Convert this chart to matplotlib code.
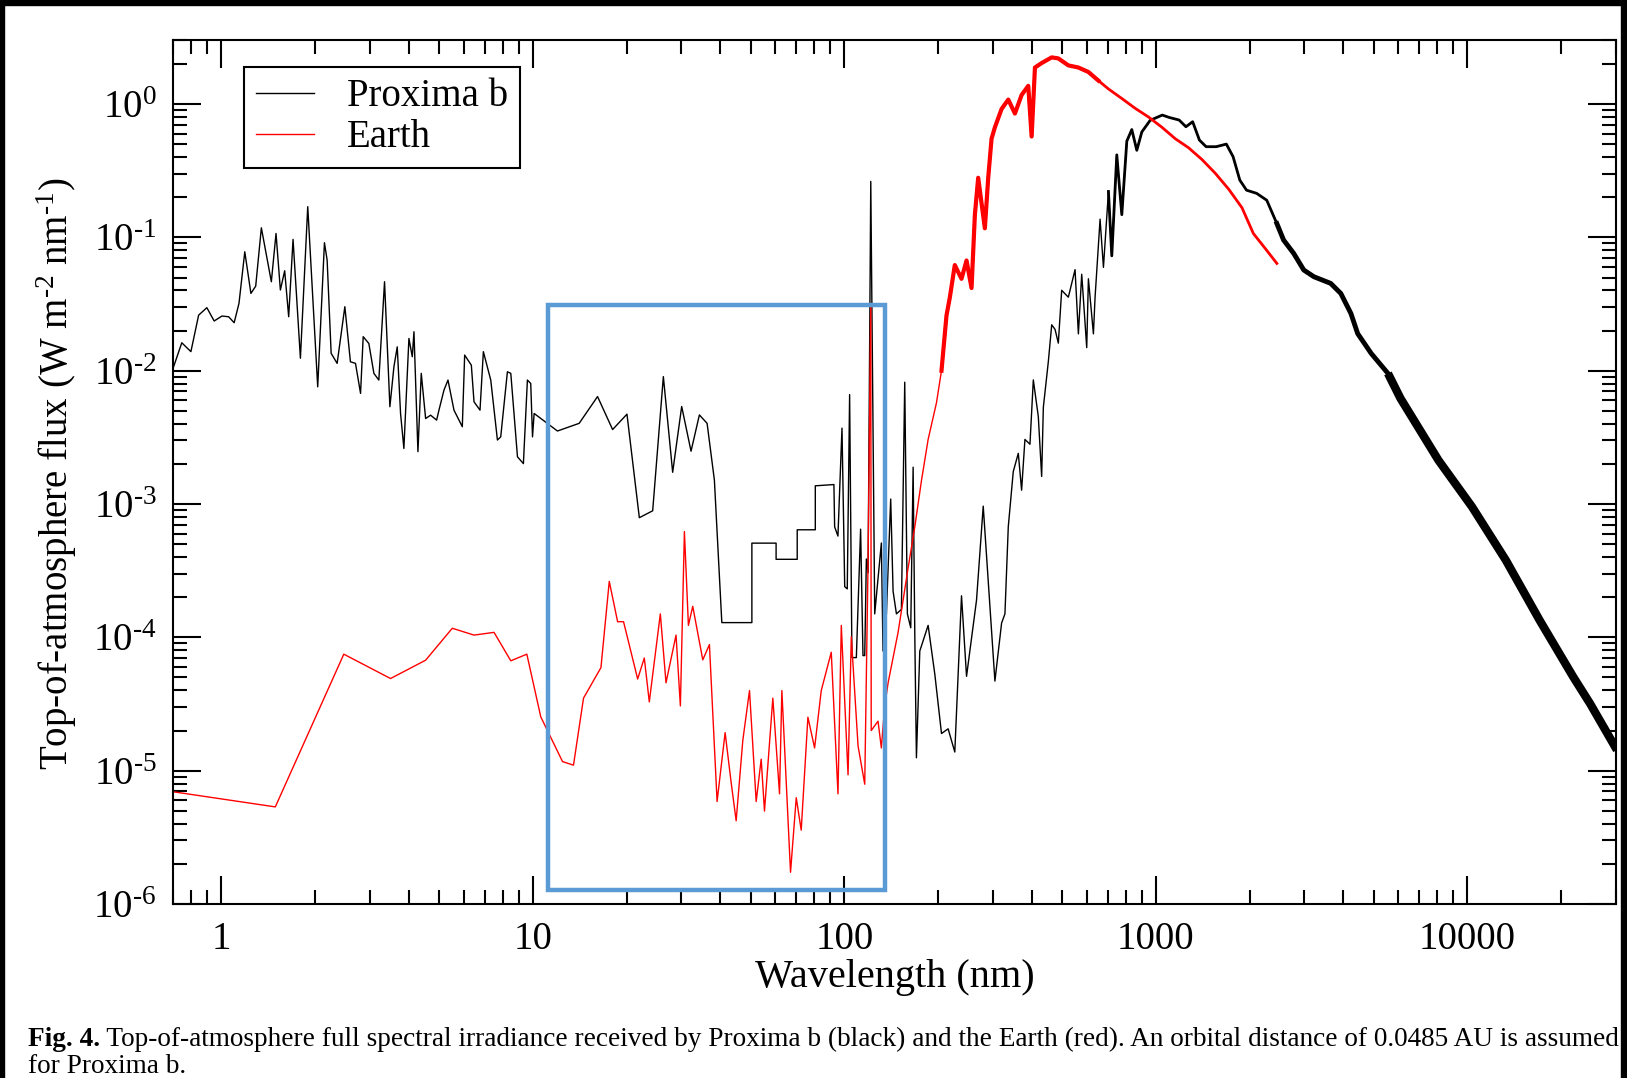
#!/usr/bin/env python
# -*- coding: utf-8 -*-
# Top-of-atmosphere spectra: Proxima b vs Earth (log-log)

import numpy as np
import matplotlib
matplotlib.use('Agg')
from matplotlib import pyplot as plt
from matplotlib.patches import Rectangle
from matplotlib.ticker import FixedLocator, NullFormatter

# ---- values: wavelength (nm) / flux (W m-2 nm-1) ----
# Proxima b, X-ray part
prox_xray_wl = [0.703, 0.747, 0.799, 0.846, 0.899, 0.949, 1.005, 1.056, 1.10, 1.14,
                1.19, 1.245, 1.29, 1.345, 1.448, 1.499, 1.548, 1.598, 1.646, 1.70,
                1.795, 1.895, 2.04, 2.144, 2.187, 2.253, 2.355, 2.493, 2.598, 2.697,
                2.80, 2.855, 2.977, 3.09, 3.205, 3.343, 3.478, 3.583, 3.672, 3.763,
                3.857, 4.003, 4.104, 4.155, 4.279, 4.385, 4.529, 4.699, 4.913, 4.998,
                5.187, 5.343, 5.585, 5.94, 6.044, 6.35, 6.476, 6.77, 6.94, 7.33,
                7.70, 7.89, 8.29, 8.50, 8.93, 9.33, 9.61, 9.85, 9.98, 10.1]
prox_xray_flux = [0.0107, 0.0162, 0.0139, 0.0261, 0.0297, 0.0236, 0.0257, 0.0254, 0.0229, 0.0320,
                  0.078, 0.038, 0.0431, 0.118, 0.0465, 0.107, 0.0403, 0.0562, 0.0254, 0.0966,
                  0.0124, 0.170, 0.00757, 0.0912, 0.0676, 0.0135, 0.01135, 0.0302, 0.01167, 0.01135,
                  0.00676, 0.0180, 0.0160, 0.00955, 0.00851, 0.0465, 0.00537, 0.0107, 0.0151, 0.00478,
                  0.00261, 0.01746, 0.01273, 0.0196, 0.00247, 0.00955, 0.00438, 0.00464, 0.00426, 0.00506,
                  0.00715, 0.00851, 0.00506, 0.00380, 0.0131, 0.0110, 0.00585, 0.00506, 0.0139, 0.00851,
                  0.00302, 0.00319, 0.00982, 0.00955, 0.00226, 0.00201, 0.00851, 0.00802, 0.00319, 0.00478]

# Proxima b, EUV part (binned steps 40-90 nm)
prox_euv_wl = [12.0, 14.09, 16.14, 18.04, 20.06, 21.98, 24.26, 26.25, 28.12, 30.06,
               32.21, 34.26, 36.27, 38.28, 40.44, 50.5, 50.5, 60.4, 60.4, 70.6,
               70.6, 80.7, 80.7, 92.6]
prox_euv_flux = [0.00353, 0.00403, 0.0064, 0.00362, 0.00472, 0.00079, 0.00089, 0.00903, 0.00173, 0.00539,
                 0.00249, 0.00466, 0.00403, 0.00151, 0.000129, 0.000129, 0.000509, 0.000509, 0.000385, 0.000385,
                 0.000641, 0.000641, 0.00137, 0.0014]

# Proxima b, FUV to near-IR
prox_uv_wl = [93.1, 95.4, 98.3, 100.3, 102.2, 104.0, 105.8, 109.3, 112.8, 114.8,
              116.3, 117.7, 119.2, 121.6, 125.2, 131.5, 133.1, 136.5, 140.9, 143.4,
              147.0, 152.5, 156.3, 159.4, 163.4, 166.3, 168.4, 170.4, 174.7, 185.8,
              195.2, 205.1, 215.4, 226.3, 237.8, 246.8, 265.7, 279.2, 304.4, 319.8,
              327.8, 336.0, 348.6, 361.8, 370.8, 380.0, 394.4, 404.3, 419.5, 430.0,
              435.4, 451.8, 463.2, 474.8, 486.4, 498.6, 523.8, 550.4, 564.1, 578.2,
              600.0, 607.5, 630.4, 638.2, 662.2, 678.9, 704.5, 722.1, 749.3, 777.6,
              806.9, 837.2, 868.8, 901.6, 959.0]
prox_uv_flux = [0.000675, 0.000575, 0.00371, 0.00024, 0.000231, 0.00662, 7.05e-5, 7.05e-5, 0.000648, 7.3e-5,
                7.3e-5, 0.000387, 0.000305, 0.263, 0.00015, 0.00051, 7.9e-5, 0.00015, 0.00109, 0.000222,
                0.00015, 0.000162, 0.0082, 0.00015, 0.000118, 0.00189, 0.0001, 1.25e-5, 7.9e-5, 0.000123,
                5.3e-5, 1.9e-5, 2.06e-5, 1.38e-5, 0.000205, 5.1e-5, 0.00019, 0.000964, 4.7e-5, 0.000128,
                0.00015, 0.000675, 0.00175, 0.0024, 0.00127, 0.00305, 0.00281, 0.00853, 0.00453, 0.00161,
                0.00531, 0.01172, 0.0221, 0.0204, 0.0161, 0.0401, 0.0356, 0.0573, 0.0189, 0.0529,
                0.0149, 0.0489, 0.0189, 0.0356, 0.137, 0.0596, 0.221, 0.0727, 0.416, 0.148,
                0.527, 0.644, 0.45, 0.618, 0.755]

# Proxima b, infrared
prox_ir_wl = [1049, 1103, 1188, 1249, 1313, 1380, 1450, 1563, 1684, 1770,
              1860, 1955, 2106, 2270, 2446, 2571, 2770, 2985, 3216, 3641,
              3924, 4228, 4445, 4910, 5560, 6100, 8076, 10350, 13290, 17040,
              21860, 24760, 30200]
prox_ir_flux = [0.827, 0.794, 0.759, 0.676, 0.737, 0.537, 0.479, 0.479, 0.501, 0.403,
                0.269, 0.226, 0.214, 0.19, 0.127, 0.0955, 0.0759, 0.0569, 0.0507, 0.0452,
                0.038, 0.0269, 0.019, 0.0135, 0.00955, 0.0062, 0.00213, 0.000953, 0.000379, 0.000135,
                5.06e-5, 3.19e-5, 1.43e-5]

# Earth, X-ray / EUV
earth_xuv_wl = [0.703, 1.491, 2.474, 3.495, 4.529, 5.516, 6.476, 7.51, 8.50, 9.57,
                10.61, 12.46, 13.51, 14.55, 16.55, 17.60, 18.72, 19.56, 21.71, 22.80,
                23.66, 25.67, 26.77, 28.83, 29.77, 30.67, 31.59, 32.62, 35.13, 36.90,
                39.05, 41.44, 43.32, 44.96, 47.23, 49.62, 52.13, 54.10, 55.43, 58.96,
                61.95, 63.03, 67.20, 70.10, 72.72, 76.41, 80.28, 84.33, 90.81, 95.43,
                97.8, 102.8, 105.3, 110.7, 116.3, 119.2]
earth_xuv_flux = [6.94e-6, 5.35e-6, 7.48e-5, 4.91e-5, 6.74e-5, 1.17e-4, 1.04e-4, 1.09e-4, 6.67e-5, 7.48e-5,
                  2.53e-5, 1.17e-5, 1.10e-5, 3.5e-5, 5.93e-5, 2.63e-4, 1.31e-4, 1.31e-4, 4.87e-5, 7.0e-5,
                  3.28e-5, 1.5e-4, 4.56e-5, 1.04e-4, 3.06e-5, 6.21e-4, 1.23e-4, 1.71e-4, 6.78e-5, 8.83e-5,
                  5.87e-6, 1.93e-5, 8.17e-6, 4.21e-6, 1.69e-5, 3.99e-5, 5.87e-6, 1.22e-5, 4.98e-6, 3.5e-5,
                  6.7e-6, 3.99e-5, 1.73e-6, 6.27e-6, 3.58e-6, 2.52e-5, 1.48e-5, 3.99e-5, 7.73e-5, 6.7e-6,
                  1.23e-4, 9.31e-6, 1.01e-4, 1.53e-5, 7.91e-6, 3.78e-4]

# Earth, Lyman alpha to near-IR
earth_uv_wl = [121.6, 122.0, 128.3, 131.5, 134.8, 138.2, 148.8, 160.2, 168.4, 176.8,
               185.8, 197.6, 205.1, 212.8, 218.2, 226.3, 237.8, 246.8, 256.1, 262.5,
               269.0, 282.6, 289.7, 296.9, 304.4, 319.8, 336.0, 352.9, 370.8, 389.5,
               399.3, 409.2, 430.0, 463.2, 486.4, 523.8, 564.1, 607.5, 654, 704,
               778, 858, 947, 1046, 1154, 1274, 1406, 1551, 1713, 1890,
               2056, 2250, 2446]
earth_uv_flux = [0.031, 2.0e-5, 2.35e-5, 1.48e-5, 3.06e-5, 4.55e-5, 1.09e-4, 3.3e-4, 6.75e-4, 1.49e-3,
                 3.05e-3, 5.74e-3, 0.01, 0.0259, 0.0356, 0.062, 0.0489, 0.0671, 0.0417, 0.148,
                 0.28, 0.117, 0.28, 0.549, 0.67, 0.919, 1.08, 0.849, 1.17, 1.37,
                 0.571, 1.88, 2.03, 2.24, 2.2, 1.95, 1.88, 1.74, 1.5, 1.3,
                 1.1, 0.93, 0.8, 0.67, 0.55, 0.47, 0.384, 0.303, 0.23, 0.167,
                 0.107, 0.082, 0.0638]

x_ticks = [1, 10, 100, 1000, 10000]
x_tick_labels = ['1', '10', '100', '1000', '10000']
y_ticks = [1e-6, 1e-5, 1e-4, 1e-3, 1e-2, 1e-1, 1e0]
y_tick_labels = [r'$10^{\text{-6}}$', r'$10^{\text{-5}}$', r'$10^{\text{-4}}$', r'$10^{\text{-3}}$',
                 r'$10^{\text{-2}}$', r'$10^{\text{-1}}$', r'$10^{0}$']
series_names = ['Proxima b', 'Earth']

# highlighted window (blue box), in data units
box_wl = [11.15, 135.5]
box_flux = [1.28e-6, 0.0313]

caption_head = 'Fig. 4.'
caption_line1 = (' Top-of-atmosphere full spectral irradiance received by Proxima b (black) '
                 'and the Earth (red). An orbital distance of 0.0485 AU is assumed')
caption_line2 = 'for Proxima b.'

W, H = 1627, 1078

plt.rcParams['font.family'] = ['Liberation Serif', 'DejaVu Serif']
plt.rcParams['mathtext.fontset'] = 'custom'
plt.rcParams['mathtext.rm'] = 'Liberation Serif'
plt.rcParams['mathtext.it'] = 'Liberation Serif:italic'
plt.rcParams['mathtext.bf'] = 'Liberation Serif:bold'

fig = plt.figure(figsize=(W / 100, H / 100), dpi=100)
ax = fig.add_axes([173 / W, 1 - 904 / H, (1616 - 173) / W, (904 - 39.5) / H])

prox_wl = np.array(prox_xray_wl + prox_euv_wl + prox_uv_wl + prox_ir_wl)
prox_flux = np.array(prox_xray_flux + prox_euv_flux + prox_uv_flux + prox_ir_flux)
earth_wl = np.array(earth_xuv_wl + earth_uv_wl)
earth_flux = np.array(earth_xuv_flux + earth_uv_flux)

ax.plot(prox_wl, prox_flux, color='black', lw=1.0, label=series_names[0])
# dense, noisy long-wavelength spectrum shows as a thick trace
m = prox_wl >= 700
ax.plot(prox_wl[m], prox_flux[m], color='black', lw=2.0)
m = prox_wl >= 2400
ax.plot(prox_wl[m], prox_flux[m], color='black', lw=3.5)
m = prox_wl >= 5000
ax.plot(prox_wl[m], prox_flux[m], color='black', lw=6.0, solid_capstyle='butt')

ax.plot(earth_wl, earth_flux, color='red', lw=1.0, label=series_names[1])
m = earth_wl >= 200
ax.plot(earth_wl[m], earth_flux[m], color='red', lw=2.0)
m = (earth_wl >= 205) & (earth_wl <= 660)
ax.plot(earth_wl[m], earth_flux[m], color='red', lw=3.0)

ax.add_patch(Rectangle((box_wl[0], box_flux[0]), box_wl[1] - box_wl[0], box_flux[1] - box_flux[0],
                       fill=False, edgecolor='#5B9BD5', lw=3.2, zorder=6))

ax.set_xscale('log')
ax.set_yscale('log')
ax.set_xlim(0.7, 3.0e4)
ax.set_ylim(1e-6, 3.05)

ax.xaxis.set_major_locator(FixedLocator(x_ticks))
ax.yaxis.set_major_locator(FixedLocator(y_ticks))
ax.set_xticklabels(x_tick_labels)
ax.set_yticklabels(y_tick_labels)
minor_x = [m * 10.0 ** e for e in range(-1, 5) for m in range(2, 10)]
minor_y = [m * 10.0 ** e for e in range(-7, 1) for m in range(2, 10)]
ax.xaxis.set_minor_locator(FixedLocator(minor_x))
ax.yaxis.set_minor_locator(FixedLocator(minor_y))
ax.xaxis.set_minor_formatter(NullFormatter())
ax.yaxis.set_minor_formatter(NullFormatter())

ax.tick_params(which='both', direction='in', top=True, right=True, width=1.5, labelsize=28)
ax.tick_params(which='major', length=20)
ax.tick_params(which='minor', length=10)
ax.tick_params(axis='x', which='major', pad=12)
ax.tick_params(axis='y', which='major', pad=12)
for s in ax.spines.values():
    s.set_linewidth(1.5)

leg = ax.legend(loc='upper left', bbox_to_anchor=(0.0492, 0.9685), borderaxespad=0,
                fontsize=28, handlelength=1.5, handletextpad=0.85, borderpad=0.3,
                labelspacing=0.1, fancybox=False, edgecolor='black', framealpha=1)
leg.get_frame().set_linewidth(1.5)

# axis titles
fig.text(894.5 / W, 1 - 977 / H, 'Wavelength (nm)', fontsize=29, ha='center', va='center')
fig.text(57 / W, 1 - 474 / H, r'Top-of-atmosphere flux (W m$^{\text{-2}}$ nm$^{\text{-1}}$)',
         fontsize=28, ha='center', va='center', rotation=90)

# caption, sized so the first line spans the page width
renderer = fig.canvas.get_renderer()
cap_fs = 18.0
t_head = fig.text(28 / W, 1 - 1046 / H, caption_head, fontsize=cap_fs, weight='bold', va='baseline')
t_rest = fig.text(0, 1 - 1046 / H, caption_line1, fontsize=cap_fs, va='baseline')
t_l2 = fig.text(28 / W, 1 - 1073 / H, caption_line2, fontsize=cap_fs, va='baseline')
w_total = t_head.get_window_extent(renderer).width + t_rest.get_window_extent(renderer).width
cap_fs = cap_fs * 1591 / w_total
for t in (t_head, t_rest, t_l2):
    t.set_fontsize(cap_fs)
w_head = t_head.get_window_extent(renderer).width
t_rest.set_x((28 + w_head) / W)

# black screenshot edges
for (x0, y0, w, h) in [(0, 0, 4, H), (1621, 0, 6, H), (0, 0, W, 5)]:
    fig.patches.append(Rectangle((x0 / W, 1 - (y0 + h) / H), w / W, h / H,
                                 transform=fig.transFigure, color='black', zorder=10))

fig.savefig('out.png', dpi=100)
